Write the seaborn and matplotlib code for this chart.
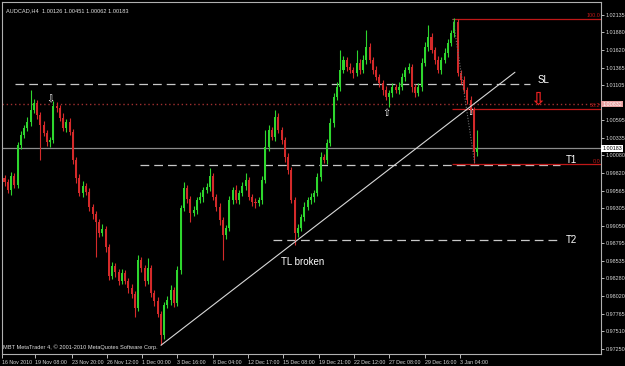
import matplotlib
matplotlib.use("Agg")
import numpy as np
import pandas as pd
import seaborn as sns
import matplotlib.pyplot as plt

# ---------------- data ----------------
first_open = 0.99750
closes = [
    0.99691, 0.99574, 0.99779, 0.99647, 1.00233, 1.00379, 1.00481, 1.00569, 1.00745, 1.00847,
    1.00672, 1.00525, 1.00408, 1.00277, 1.00306, 1.00803, 1.00774, 1.00628, 1.00481, 1.00569,
    1.00423, 1.00013, 0.99750, 0.99530, 0.99633, 0.99545, 0.99326, 0.99223, 0.99106,
    0.98945, 0.99004, 0.98740, 0.98316, 0.98462, 0.98375, 0.98243, 0.98360, 0.98243,
    0.98141, 0.98053, 0.97848, 0.98550, 0.98433, 0.98243, 0.98433, 0.98067,
    0.97950, 0.97760, 0.97453, 0.97892, 0.97965, 0.98111, 0.97921, 0.98404, 0.99311, 0.99604,
    0.99443, 0.99238, 0.99282, 0.99428, 0.99472, 0.99574, 0.99618, 0.99779, 0.99472, 0.99326,
    0.99135, 0.98916, 0.99023, 0.99428, 0.99574, 0.99428, 0.99530, 0.99633, 0.99721, 0.99472,
    0.99399, 0.99384, 0.99428, 0.99721, 1.00203, 1.00452, 1.00350, 1.00642, 1.00452, 1.00306,
    1.00057, 0.99867, 0.99428, 0.98945, 0.99023, 0.99179, 0.99326, 0.99428, 0.99472, 0.99530,
    0.99765, 1.00057, 1.00013, 1.00262, 1.00555, 1.00935, 1.01081, 1.01330, 1.01476, 1.01374,
    1.01330, 1.01286, 1.01432, 1.01330, 1.01476, 1.01666, 1.01476, 1.01330, 1.01228, 1.01140,
    1.01037, 1.00935, 1.00993, 1.01081, 1.01037, 1.01081, 1.01228, 1.01330, 1.01374, 1.01081,
    1.00993, 1.01081, 1.01432, 1.01666, 1.01813, 1.01623, 1.01476, 1.01330, 1.01476, 1.01579,
    1.01725, 1.01871, 1.02032, 1.01286, 1.01184, 1.01037, 1.00891, 1.00745, 1.00126, 1.00183,
]
upper_wick_pips = [
    5, 4, 6, 5, 4, 6, 5, 7, 29, 6,
    5, 4, 6, 5, 4, 8, 6, 5, 7, 5,
    6, 4, 5, 6, 7, 4, 6, 5, 4,
    5, 7, 4, 5, 6, 5, 4, 6, 5,
    4, 6, 5, 8, 5, 4, 15, 4,
    5, 6, 4, 5, 6, 7, 5, 6, 5, 9,
    5, 4, 6, 5, 7, 5, 6, 12, 5, 4,
    6, 5, 4, 6, 5, 7, 5, 6, 10, 5,
    4, 6, 5, 6, 25, 7, 5, 10, 6, 5,
    4, 6, 5, 4, 6, 5, 7, 5, 6, 5,
    6, 7, 5, 6, 8, 6, 7, 29, 6, 5,
    6, 5, 19, 6, 7, 25, 6, 5, 6, 5,
    4, 6, 5, 6, 5, 7, 6, 5, 6, 5,
    4, 6, 7, 8, 18, 6, 5, 6, 5, 7,
    6, 5, 6, 5, 4, 6, 5, 6, 5, 27,
]
lower_wick_pips = [
    6, 5, 7, 4, 5, 6, 5, 4, 6, 5,
    6, 51, 5, 6, 7, 5, 6, 5, 4, 6,
    5, 6, 7, 5, 6, 5, 6, 7, 51,
    6, 5, 7, 6, 5, 7, 6, 5, 5,
    7, 6, 13, 5, 6, 7, 5, 6,
    7, 5, 15, 6, 5, 7, 6, 5, 6, 5,
    6, 13, 5, 6, 5, 7, 5, 6, 5, 6,
    7, 37, 6, 5, 6, 5, 6, 5, 6, 5,
    6, 7, 5, 6, 5, 6, 5, 6, 5, 6,
    7, 6, 5, 18, 6, 5, 6, 5, 6, 7,
    5, 6, 5, 6, 5, 6, 5, 6, 5, 6,
    5, 7, 5, 6, 5, 6, 5, 6, 5, 6,
    7, 5, 15, 6, 5, 6, 5, 6, 5, 7,
    6, 5, 6, 5, 6, 5, 6, 5, 6, 5,
    6, 5, 6, 5, 6, 5, 6, 5, 15, 6,
]
x_tick_bars = [-0.77, 9.36, 20.7, 31.4, 42.2, 52.9, 64.0, 74.7, 85.4, 96.5, 107.2, 117.9, 129.0, 139.7]
x_tick_labels = ["16 Nov 2010", "19 Nov 08:00", "23 Nov 20:00", "26 Nov 12:00", "1 Dec 00:00",
                 "3 Dec 16:00", "8 Dec 04:00", "12 Dec 17:00", "15 Dec 08:00", "19 Dec 21:00",
                 "22 Dec 12:00", "27 Dec 08:00", "29 Dec 16:00", "3 Jan 04:00"]
y_ticks = [1.02135, 1.01880, 1.01620, 1.01365, 1.01105, 1.00595, 1.00335, 1.00080,
           0.99820, 0.99565, 0.99305, 0.99050, 0.98795, 0.98535, 0.98280, 0.98020, 0.97765,
           0.97510, 0.97250]
title_text = "AUDCAD,H4  1.00126 1.00451 1.00062 1.00183"
copyright_text = "MBT MetaTrader 4, \u00a9 2001-2010 MetaQuotes Software Corp."

sl_level, t1_level, t2_level = 1.01130, 0.99940, 0.98843
red_hline = 1.00832
current_price = 1.00183
fib_high, fib_low = 1.02078, 0.99950

# ---------------- frame ----------------
opens = [first_open] + closes[:-1]
df = pd.DataFrame({"bar": np.arange(len(closes)), "open": opens, "close": closes,
                   "up": upper_wick_pips, "dn": lower_wick_pips})
df["high"] = df[["open", "close"]].max(axis=1) + df["up"] * 1e-4
df["low"] = df[["open", "close"]].min(axis=1) - df["dn"] * 1e-4
df["bull"] = df["close"] >= df["open"]

sns.set_theme(style="dark", rc={"axes.facecolor": "black", "figure.facecolor": "black"})
plt.rcParams["font.family"] = ["Liberation Sans", "DejaVu Sans"]

fig = plt.figure(figsize=(6.25, 3.66), dpi=100)
ax = fig.add_axes([2 / 625, 12 / 366, 599 / 625, 352 / 366])
ax.set_facecolor("black")
ax.grid(False)

GREEN, RED = "#2ed62e", "#d42a2a"
cols = np.where(df["bull"], GREEN, RED)
ax.vlines(df["bar"], df["low"], df["high"], colors=cols, linewidth=0.8, zorder=3)
body_bottom = df[["open", "close"]].min(axis=1)
body_h = (df["close"] - df["open"]).abs().clip(lower=0.00004)
ax.bar(df["bar"], body_h, bottom=body_bottom, width=0.62, color=cols, linewidth=0, zorder=4)

xmin, xmax = -0.77, 183.0
ax.set_xlim(xmin, xmax)
ax.set_ylim(0.97175, 1.02325)

# horizontal objects
ax.hlines(current_price, xmin, xmax, color="#8c8c8c", lw=0.9, zorder=2)
ax.hlines(red_hline, xmin, xmax, color="#a03030", lw=1.0, linestyles=(0, (1, 2)), zorder=2)
ax.hlines(sl_level, 3.2, 161.2, color="#c8c8c8", lw=0.9, linestyles=(0, (7, 4)), zorder=2)
ax.hlines(t1_level, 41.6, 170.4, color="#c8c8c8", lw=0.9, linestyles=(0, (7, 4)), zorder=2)
ax.hlines(t2_level, 82.4, 170.4, color="#c8c8c8", lw=0.9, linestyles=(0, (7, 4)), zorder=2)

# fibonacci
fib_x0 = 137.3
for lvl, lab in [(1.0, "100.0"), (0.382, "38.2"), (0.0, "0.0")]:
    price = fib_low + lvl * (fib_high - fib_low)
    ax.hlines(price, fib_x0, xmax, color="#c01818", lw=0.9, zorder=2)
    ax.text(xmax - 0.3, price + 0.00012, lab, color="#c01818", fontsize=3.9,
            ha="right", va="bottom", zorder=6)
ax.plot([137.6, 144.3], [fib_high, fib_low], color="#707070", lw=0.8, ls=(0, (1, 1.5)), zorder=5)

# trend line from the swing low
low_bar = int(df["low"].idxmin())
low_price = df["low"].min()
tl_slope = 0.0003678
tl_end = 156.6
ax.plot([low_bar, tl_end], [low_price, low_price + tl_slope * (tl_end - low_bar)],
        color="#d8d8d8", lw=0.8, zorder=5)

# texts
ax.text(163.6, 1.01184, "SL", color="white", fontsize=7, va="center", ha="left")
ax.text(172.2, 1.00013, "T1", color="white", fontsize=7, va="center", ha="left")
ax.text(172.2, 0.98843, "T2", color="white", fontsize=7, va="center", ha="left")
ax.text(84.8, 0.98521, "TL broken", color="white", fontsize=7, va="center", ha="left")

ax.text(14.0, 1.00906, "\u21e9", color="white", fontsize=7, ha="center", va="center",
        family=["DejaVu Sans"])
ax.text(117.3, 1.00701, "\u21e7", color="white", fontsize=7, ha="center", va="center",
        family=["DejaVu Sans"])
ax.text(142.8, 1.00715, "\u21e7", color="white", fontsize=7, ha="center", va="center",
        family=["DejaVu Sans"])
ax.text(163.6, 1.00891, "\u21e9", color="#e82020", fontsize=13, fontweight="bold",
        ha="center", va="center", family=["DejaVu Sans"])

ax.text(0.006, 0.982, title_text, transform=ax.transAxes, color="#e0e0e0", fontsize=4.1,
        ha="left", va="top")
ax.text(0.002, 0.012, copyright_text, transform=ax.transAxes, color="#e0e0e0", fontsize=4.1,
        ha="left", va="bottom")

# axes styling
for s in ax.spines.values():
    s.set_visible(True)
    s.set_color("#b0b0b0")
    s.set_linewidth(0.8)
ax.yaxis.tick_right()
ax.set_yticks(y_ticks)
ax.set_yticklabels([f"{v:.5f}" for v in y_ticks])
ax.tick_params(axis="y", colors="#d8d8d8", labelsize=3.9, length=2, width=0.6, pad=1.2,
               right=True, left=False)
ax.set_xticks(x_tick_bars)
ax.set_xticklabels(x_tick_labels, ha="left")
ax.tick_params(axis="x", colors="#d8d8d8", labelsize=3.8, length=3, width=0.6, pad=1,
               bottom=True)

# price boxes on the axis
ax.text(1.002, current_price, f"{current_price:.5f}", transform=ax.get_yaxis_transform(),
        color="black", fontsize=3.9, ha="left", va="center",
        bbox=dict(boxstyle="square,pad=0.15", fc="white", ec="none"), zorder=10, clip_on=False)
ax.text(1.002, red_hline, f"{red_hline:.5f}", transform=ax.get_yaxis_transform(),
        color="white", fontsize=3.9, ha="left", va="center",
        bbox=dict(boxstyle="square,pad=0.15", fc="#e8a0a0", ec="none"), zorder=10, clip_on=False)

ax.set_xlabel("")
ax.set_ylabel("")
fig.savefig("out.png", dpi=100, facecolor="black")
